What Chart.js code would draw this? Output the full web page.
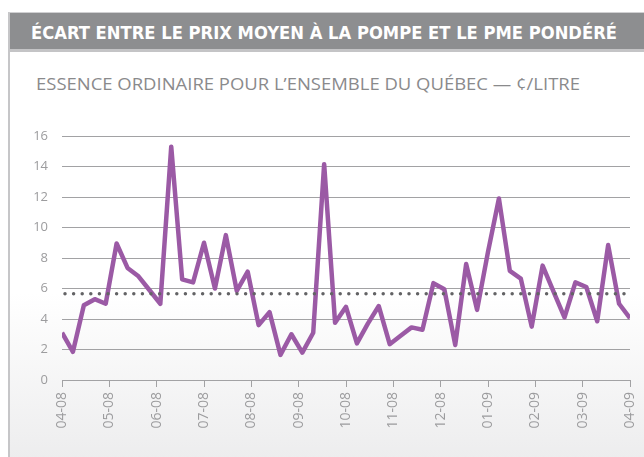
<!DOCTYPE html>
<html>
<head>
<meta charset="utf-8">
<script src="https://cdn.jsdelivr.net/npm/chart.js@4"></script>
<style>
  html, body { margin: 0; padding: 0; background: #fff; }
  body { width: 644px; height: 457px; position: relative; overflow: hidden; }
  #panel {
    position: absolute; left: 8px; top: 12px; width: 640px; height: 450px;
    border-left: 2px solid #c6c6c8; border-top: 1px solid #d0d0d2;
    background: linear-gradient(to bottom, #ffffff 0px, #ffffff 280px, #ededee 445px);
  }
  #titlebar {
    position: absolute; left: 10px; top: 13px; width: 634px; height: 36px;
    background: #8d8e90; border-bottom: 3px solid #c4c4c6;
  }
  .fit { position: absolute; white-space: nowrap; transform-origin: 0 50%; }
  #title {
    left: 31px; top: 21px; font-family: "Liberation Sans Narrow", "DejaVu Sans Condensed", sans-serif;
    font-weight: bold; font-size: 18px; color: #fff; line-height: 24px;
  }
  #subtitle {
    left: 36px; top: 74px; font-family: "Open Sans", sans-serif;
    font-size: 15.5px; color: #8a8a8c; line-height: 20px;
  }
  canvas { position: absolute; left: 0; top: 0; }
</style>
</head>
<body>
<div id="panel"></div>
<div id="titlebar"></div>
<div id="title" class="fit" data-w="586">ÉCART ENTRE LE PRIX MOYEN À LA POMPE ET LE PME PONDÉRÉ</div>
<div id="subtitle" class="fit" data-w="544">ESSENCE ORDINAIRE POUR L’ENSEMBLE DU QUÉBEC — ¢/LITRE</div>
<canvas id="myChart" width="644" height="457"></canvas>
<script>
// tick labels (months, mm-yy)
const monthLabels = ['04-08', '05-08', '06-08', '07-08', '08-08', '09-08', '10-08',
                     '11-08', '12-08', '01-09', '02-09', '03-09', '04-09'];

// weekly gap between average pump price and weighted PME (¢/litre)
const weeklyGap = [3.1, 1.85, 4.9, 5.3, 5.0, 8.95, 7.35, 6.8, 5.9, 5.0,
                   15.3, 6.6, 6.4, 9.0, 6.0, 9.5, 5.85, 7.1, 3.6, 4.45,
                   1.65, 3.0, 1.8, 3.1, 14.15, 3.75, 4.8, 2.4, 3.7, 4.85,
                   2.35, 2.9, 3.45, 3.3, 6.35, 5.95, 2.3, 7.6, 4.6, 8.4,
                   11.9, 7.15, 6.65, 3.5, 7.5, 5.8, 4.1, 6.4, 6.1, 3.85,
                   8.85, 5.0, 4.05];

// average of the period (dotted line)
const averageGap = 5.66;

const yTicks = { min: 0, max: 16, step: 2 };

// weeks placed on a month scale
const weeksPerYear = weeklyGap.length - 1;
const gapPoints = weeklyGap.map((v, i) => ({ x: i * 12 / weeksPerYear, y: v }));
const avgPoints = [{ x: 0, y: averageGap }, { x: monthLabels.length - 1, y: averageGap }];

// squeeze html titles to the reference width
document.querySelectorAll('.fit').forEach(el => {
    const w = el.getBoundingClientRect().width;
    el.style.transform = 'scaleX(' + (el.dataset.w / w) + ')';
});

const gridColor = '#a2a2a4';
const tickColor = '#9c9c9e';

const config = {
    type: 'line',
    data: {
        datasets: [{
            label: 'Écart',
            data: gapPoints,
            borderColor: '#9b5aa5',
            borderWidth: 4.5,
            borderJoinStyle: 'round',
            pointRadius: 0,
            tension: 0,
            order: 1
        }, {
            label: 'Moyenne',
            data: avgPoints,
            borderColor: '#636365',
            borderWidth: 3.5,
            borderDash: [0, 8.6],
            borderDashOffset: 5.6,
            borderCapStyle: 'round',
            pointRadius: 0,
            order: 0
        }]
    },
    options: {
        responsive: false,
        animation: false,
        events: [],
        layout: { padding: { top: 136, right: 14, left: 0, bottom: 0 } },
        scales: {
            x: {
                type: 'linear',
                min: 0,
                max: monthLabels.length - 1,
                afterFit: s => {
                    s.height = 77;
                    s.paddingLeft = 0;
                    s.paddingRight = 0;
                },
                grid: { drawOnChartArea: false, drawTicks: true, tickLength: 7, color: gridColor },
                border: { display: true, color: gridColor, width: 1 },
                ticks: {
                    stepSize: 1,
                    autoSkip: false,
                    maxRotation: 90,
                    minRotation: 90,
                    padding: 5,
                    color: tickColor,
                    font: { family: 'Open Sans', size: 14 },
                    callback: v => monthLabels[v]
                }
            },
            y: {
                min: yTicks.min,
                max: yTicks.max,
                afterFit: s => { s.width = 62; },
                grid: { drawTicks: false, color: gridColor, lineWidth: 1 },
                border: { display: false },
                ticks: {
                    stepSize: yTicks.step,
                    padding: 14,
                    color: tickColor,
                    font: { family: 'Open Sans', size: 13 }
                }
            }
        },
        plugins: {
            legend: { display: false },
            tooltip: { enabled: false }
        }
    }
};

const myChart = new Chart(document.getElementById('myChart'), config);
</script>
</body>
</html>
